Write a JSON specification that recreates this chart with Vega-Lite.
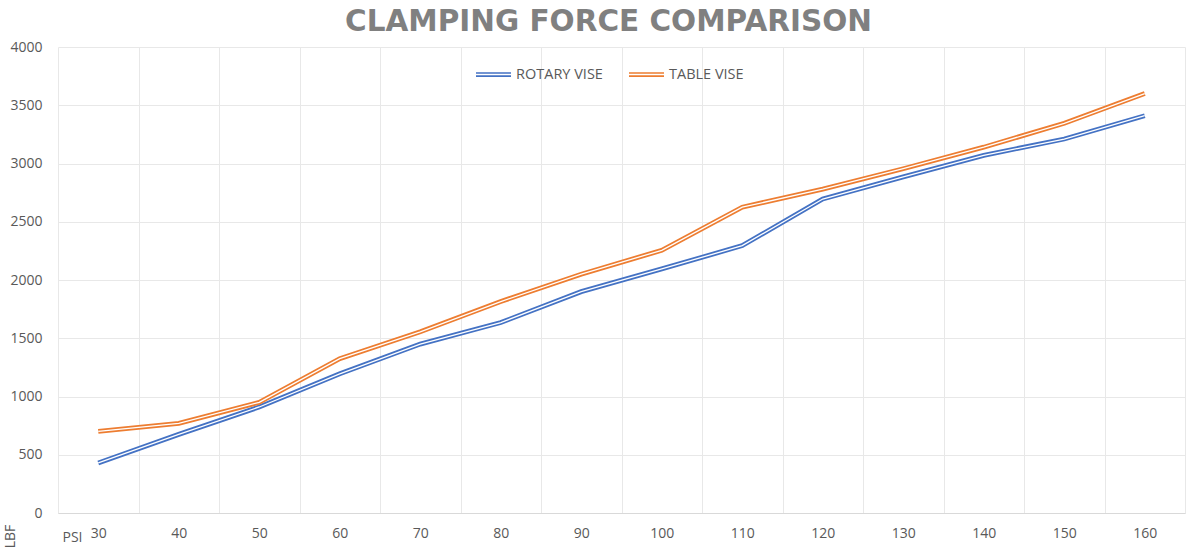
{
  "$schema": "https://vega.github.io/schema/vega-lite/v6.json",
  "autosize": "none",
  "width": 1127,
  "height": 466,
  "padding": {"left": 58, "top": 47, "right": 1, "bottom": 37},
  "background": "white",
  "title": {
    "text": "CLAMPING FORCE COMPARISON",
    "anchor": "middle",
    "frame": "group",
    "dx": -13,
    "offset": 2.5,
    "font": "DejaVu Sans",
    "fontSize": 29.5,
    "fontWeight": "bold",
    "color": "#808080"
  },
  "config": {
    "view": {"stroke": null},
    "axis": {"labelFont": "Open Sans", "titleFont": "Open Sans", "labelColor": "#595959", "titleColor": "#595959"}
  },
  "data": {
    "values": [
      {"psi": 30, "series": "ROTARY VISE", "lbf": 430},
      {"psi": 40, "series": "ROTARY VISE", "lbf": 675},
      {"psi": 50, "series": "ROTARY VISE", "lbf": 910},
      {"psi": 60, "series": "ROTARY VISE", "lbf": 1195},
      {"psi": 70, "series": "ROTARY VISE", "lbf": 1450},
      {"psi": 80, "series": "ROTARY VISE", "lbf": 1635},
      {"psi": 90, "series": "ROTARY VISE", "lbf": 1900},
      {"psi": 100, "series": "ROTARY VISE", "lbf": 2095},
      {"psi": 110, "series": "ROTARY VISE", "lbf": 2295},
      {"psi": 120, "series": "ROTARY VISE", "lbf": 2695},
      {"psi": 130, "series": "ROTARY VISE", "lbf": 2885},
      {"psi": 140, "series": "ROTARY VISE", "lbf": 3070},
      {"psi": 150, "series": "ROTARY VISE", "lbf": 3210},
      {"psi": 160, "series": "ROTARY VISE", "lbf": 3410},
      {"psi": 30, "series": "TABLE VISE", "lbf": 700},
      {"psi": 40, "series": "TABLE VISE", "lbf": 770},
      {"psi": 50, "series": "TABLE VISE", "lbf": 950},
      {"psi": 60, "series": "TABLE VISE", "lbf": 1325},
      {"psi": 70, "series": "TABLE VISE", "lbf": 1555},
      {"psi": 80, "series": "TABLE VISE", "lbf": 1815},
      {"psi": 90, "series": "TABLE VISE", "lbf": 2050},
      {"psi": 100, "series": "TABLE VISE", "lbf": 2255},
      {"psi": 110, "series": "TABLE VISE", "lbf": 2625},
      {"psi": 120, "series": "TABLE VISE", "lbf": 2780},
      {"psi": 130, "series": "TABLE VISE", "lbf": 2955},
      {"psi": 140, "series": "TABLE VISE", "lbf": 3140},
      {"psi": 150, "series": "TABLE VISE", "lbf": 3345},
      {"psi": 160, "series": "TABLE VISE", "lbf": 3600}
    ]
  },
  "encoding": {
    "x": {
      "field": "psi",
      "type": "ordinal",
      "scale": {"type": "band", "paddingInner": 0, "paddingOuter": 0},
      "axis": {
        "title": "PSI",
        "titleX": 4,
        "titleY": 28,
        "titleAlign": "left",
        "titleBaseline": "alphabetic",
        "titleFontWeight": "normal",
        "titleFontSize": 14,
        "labelAngle": 0,
        "labelFontSize": 14,
        "labelPadding": 13,
        "ticks": false,
        "tickBand": "extent",
        "grid": true,
        "gridColor": "#e8e8e8",
        "domainColor": "#d9d9d9"
      }
    },
    "y": {
      "field": "lbf",
      "type": "quantitative",
      "scale": {"domain": [0, 4000], "nice": false},
      "axis": {
        "title": "LBF",
        "titleAngle": 270,
        "titleX": -48,
        "titleY": 489,
        "titleAlign": "center",
        "titleBaseline": "middle",
        "titleFontWeight": "normal",
        "titleFontSize": 14,
        "values": [0, 500, 1000, 1500, 2000, 2500, 3000, 3500, 4000],
        "format": "d",
        "labelFontSize": 14,
        "labelPadding": 16,
        "ticks": false,
        "domain": false,
        "grid": true,
        "gridColor": "#e8e8e8"
      }
    }
  },
  "layer": [
    {
      "mark": {"type": "line", "strokeWidth": 4.8},
      "encoding": {
        "color": {
          "field": "series",
          "type": "nominal",
          "scale": {"domain": ["ROTARY VISE", "TABLE VISE"], "range": ["#4472C4", "#ED7D31"]},
          "legend": {
            "title": null,
            "orient": "none",
            "legendX": 417,
            "legendY": 9,
            "direction": "horizontal",
            "symbolType": "M-1,-0.09H1M-1,0.09H1",
            "symbolSize": 1225,
            "symbolStrokeWidth": 1.6,
            "labelFont": "Open Sans",
            "labelFontSize": 14.5,
            "labelColor": "#595959",
            "columnPadding": 22,
            "labelOffset": 4
          }
        }
      }
    },
    {
      "mark": {"type": "line", "strokeWidth": 1.3, "color": "white"},
      "encoding": {"detail": {"field": "series", "type": "nominal"}}
    }
  ]
}
